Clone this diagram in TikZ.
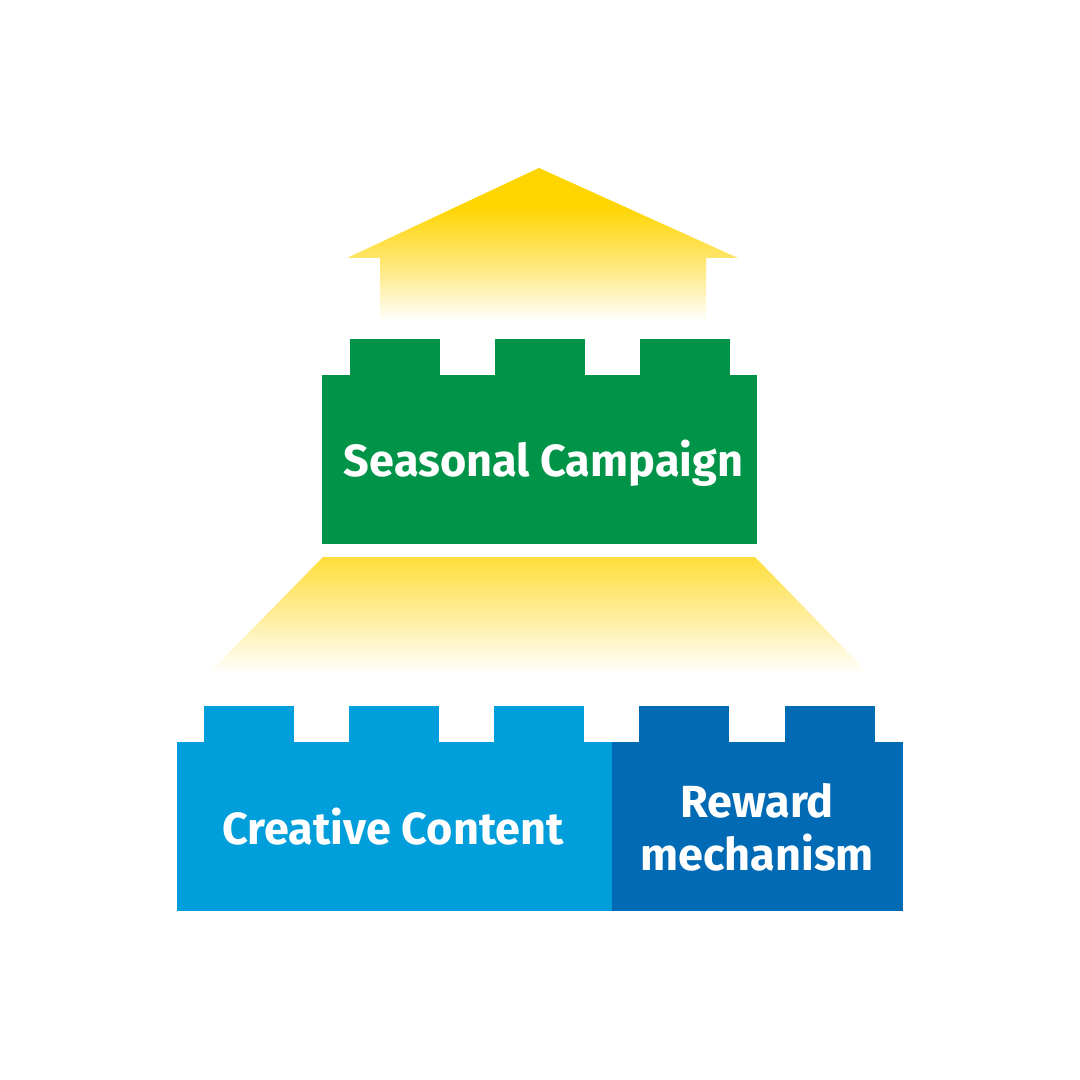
\documentclass[tikz,border=0pt]{standalone}
\usepackage{fontspec}
\setmainfont{Fira Sans}
\definecolor{bgreen}{RGB}{0,148,72}
\definecolor{lblue}{RGB}{0,159,219}
\definecolor{dblue}{RGB}{0,106,180}
\pgfdeclareverticalshading{arrowsh}{100bp}{color(0bp)=(white); color(25bp)=(white); color(27bp)=(white); color(46bp)=(rgb,255:red,255;green,230;blue,112); color(63bp)=(rgb,255:red,255;green,213;blue,0); color(100bp)=(rgb,255:red,255;green,213;blue,0)}
\pgfdeclareverticalshading{trapsh}{100bp}{color(0bp)=(white); color(25bp)=(white); color(27bp)=(white); color(50bp)=(rgb,255:red,255;green,238;blue,160); color(75bp)=(rgb,255:red,255;green,222;blue,58); color(100bp)=(rgb,255:red,255;green,222;blue,58)}
\tikzset{
  lbl/.style={text=white, font=\fontsize{12.8}{15.1}\selectfont\bfseries, inner sep=0pt, anchor=base, align=center},
}
\begin{document}
\begin{tikzpicture}[x=0.01cm,y=-0.01cm]
\useasboundingbox (0,0) rectangle (1080,1080);
% top arrow
\shade[shading=arrowsh] (539,168) -- (738,258) -- (706,258) -- (706,328) -- (380,328) -- (380,258) -- (347,258) -- cycle;
% green brick
\fill[bgreen] (322,375) rectangle (757,544);
\foreach \sx in {350,495,640}{\fill[bgreen] (\sx,339) rectangle (\sx+90,376);}
\node[lbl] (seasonal) at (543.5,477) {Seasonal Campaign};
% trapezoid
\shade[shading=trapsh] (323,557) -- (755,557) -- (874,679) -- (203,679) -- cycle;
% light blue brick
\fill[lblue] (177,742) rectangle (612.5,911);
\foreach \sx in {204,349,494}{\fill[lblue] (\sx,706) rectangle (\sx+90,743);}
\node[lbl] (creative) at (393,844) {Creative Content};
% dark blue brick
\fill[dblue] (612,742) rectangle (903,911);
\foreach \sx in {639,785}{\fill[dblue] (\sx,706) rectangle (\sx+90,743);}
\node[lbl] (reward) at (757,817) {Reward};
\node[lbl] (mech) at (757,870) {mechanism};
\end{tikzpicture}
\end{document}
